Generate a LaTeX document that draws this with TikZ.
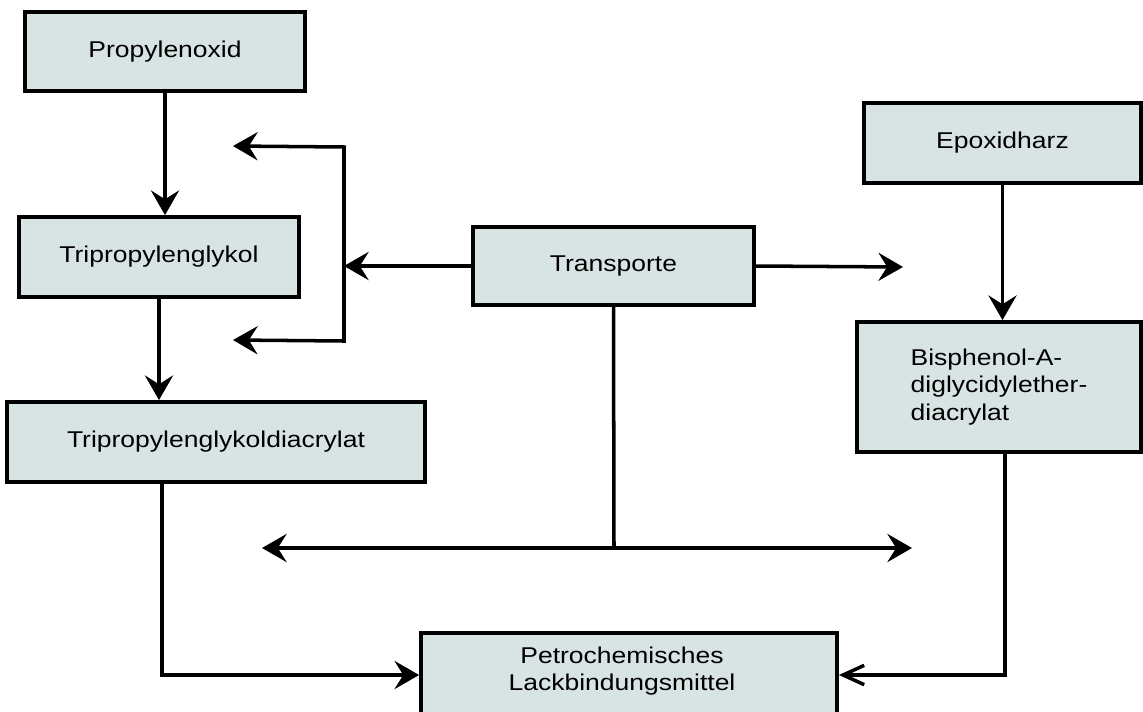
\documentclass[tikz,border=0pt]{standalone}
\usepackage{fontspec}
\setmainfont[FakeStretch=1.16]{Liberation Sans}
\usetikzlibrary{arrows.meta}
\definecolor{boxfill}{RGB}{216,228,227}

\begin{document}
\begin{tikzpicture}[x=0.02cm, y=-0.02cm, >={Stealth[length=14pt,width=16pt,inset=5pt]},
    box/.style={draw, line width=2.2pt, fill=boxfill, font=\fontsize{13}{15.6}\selectfont},
    conn/.style={line width=2pt},
    barb/.style={line width=2pt, -{Straight Barb[length=12pt,width=11pt]}}]
\useasboundingbox (0,0) rectangle (1143,711);
\clip (0,0) rectangle (1143,711);

\node (prop) [box, minimum width=5.6cm, minimum height=1.58cm] at (165,51.5) {Propylenoxid};
\node (tpg) [box, minimum width=5.6cm, minimum height=1.6cm] at (159,257) {Tripropylenglykol};
\node (tpgda) [box, minimum width=8.36cm, minimum height=1.6cm] at (216,442) {Tripropylenglykoldiacrylat};
\node (trans) [box, minimum width=5.62cm, minimum height=1.56cm] at (613.5,266) {Transporte};
\node (epox) [box, minimum width=5.54cm, minimum height=1.6cm] at (1002.5,143) {Epoxidharz};
\node (bpa) [box, minimum width=5.68cm, minimum height=2.6cm, align=left] at (999,387)
    {Bisphenol-A-\\diglycidylether-\\diacrylat};
\node (petro) [box, minimum width=8.32cm, minimum height=2.6cm] at (629,698) {};
\node (petrotext) [font=\fontsize{13}{15.6}\selectfont, align=center] at (622,671)
    {Petrochemisches\\Lackbindungsmittel};

\coordinate (fork) at (344,266);
\coordinate (brtop) at (344,147);
\coordinate (brbot) at (344,341);
\coordinate (uptip) at (233,146);
\coordinate (downtip) at (233,340);
\coordinate (righttip) at (903,267);
\coordinate (join) at (614,548);
\coordinate (lefttip) at (262,548);
\coordinate (farright) at (912,548);
\coordinate (leftcorner) at (162,675);
\coordinate (rightcorner) at (1005,675);

\draw[conn,->] (prop.south) -- (prop.south |- tpg.north);
\draw[conn,->] (tpg.south) -- (tpg.south |- tpgda.north);
\draw[conn,->] (epox.south) -- (epox.south |- bpa.north);
\draw[conn,->] (trans.west) -- (fork);
\draw[conn,<->] (uptip) -- (brtop) -- (brbot) -- (downtip);
\draw[conn,->] (trans.east) -- (righttip);
\draw[conn] (trans.south) -- (join);
\draw[conn,<->] (lefttip) -- (farright);
\draw[conn,->] (leftcorner |- tpgda.south) -- (leftcorner) -- (leftcorner -| petro.west);
\draw[barb] (rightcorner |- bpa.south) -- (rightcorner) -- (rightcorner -| petro.east);

\end{tikzpicture}
\end{document}
